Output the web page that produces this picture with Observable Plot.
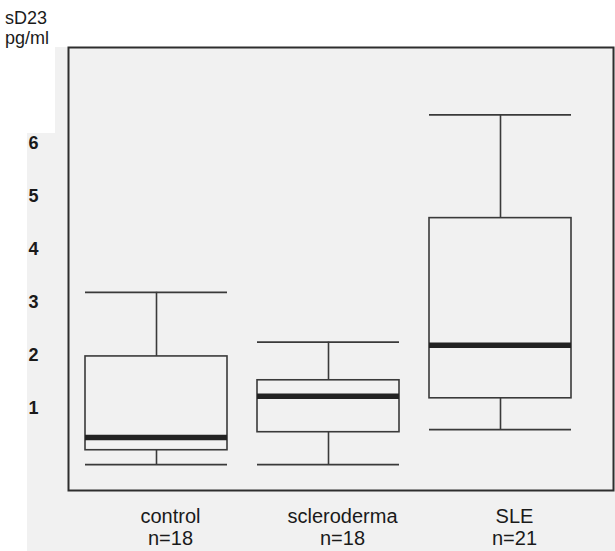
<!DOCTYPE html>
<html>
<head>
<meta charset="utf-8">
<script src="https://cdn.jsdelivr.net/npm/d3@7"></script>
<script src="https://cdn.jsdelivr.net/npm/@observablehq/plot@0.6"></script>
<style>
  html, body { margin: 0; padding: 0; background: #fff; }
  #wrap { position: relative; width: 615px; height: 551px; overflow: hidden; font-family: "Liberation Sans", Arial, sans-serif; }
  .paper { position: absolute; background: #f1f1f1; }
  #title { position: absolute; left: 5px; top: 8px; font-size: 18px; line-height: 20px; color: #1a1a1a; z-index: 2; }
  #chart { position: absolute; left: 0; top: 0; z-index: 1; }
</style>
</head>
<body>
<div id="wrap">
  <div class="paper" style="left:27px; top:133px; width:588px; height:418px;"></div>
  <div class="paper" style="left:55px; top:47px; width:560px; height:90px;"></div>
  <div id="title">sD23<br>pg/ml</div>
  <div id="chart"></div>
</div>
<script>
// Data
const groups      = ["control", "scleroderma", "SLE"];
const counts      = [18, 18, 21];
const whiskerLow  = [-0.06, -0.06, 0.60];
const q1          = [0.21, 0.55, 1.19];
const median      = [0.45, 1.23, 2.19];
const q3          = [1.98, 1.53, 4.59];
const whiskerHigh = [3.19, 2.25, 6.54];
const yTicks      = [1, 2, 3, 4, 5, 6];

const data = groups.map((g, i) => ({
  group: g, n: counts[i], lo: whiskerLow[i], q1: q1[i], med: median[i], q3: q3[i], hi: whiskerHigh[i]
}));
const nByGroup = new Map(data.map(d => [d.group, d.n]));

const line = "#3a3a3a";

const chart = Plot.plot({
  width: 615,
  height: 551,
  marginLeft: 68,
  marginRight: 2,
  marginTop: 47,
  marginBottom: 61,
  style: { background: "transparent", fontFamily: "Liberation Sans, Arial, sans-serif", color: "#1a1a1a" },
  x: { type: "band", domain: groups, range: [54, 602], padding: 0.177, label: null },
  y: { domain: [-0.55, 7.81], label: null },
  marks: [
    Plot.frame({ stroke: "#2e2e2e", strokeWidth: 2 }),
    Plot.ruleX(data, { x: "group", y1: "q3", y2: "hi", stroke: line, strokeWidth: 1.6 }),
    Plot.ruleX(data, { x: "group", y1: "lo", y2: "q1", stroke: line, strokeWidth: 1.6 }),
    Plot.tickY(data, { x: "group", y: "hi", stroke: line, strokeWidth: 1.8 }),
    Plot.tickY(data, { x: "group", y: "lo", stroke: line, strokeWidth: 1.8 }),
    Plot.barY(data, { x: "group", y1: "q1", y2: "q3", fill: "none", stroke: line, strokeWidth: 1.6 }),
    Plot.tickY(data, { x: "group", y: "med", stroke: "#222", strokeWidth: 5.5 }),
    Plot.axisY({ ticks: yTicks, tickSize: 0, tickPadding: 30, fontSize: 18, fontWeight: "bold", label: null, tickFormat: d => String(d) }),
    Plot.axisX({
      tickSize: 0, tickPadding: 17, dx: 14, fontSize: 20, lineHeight: 1.1, label: null,
      letterSpacing: "0.8px",
      tickFormat: d => `${d}\nn=${nByGroup.get(d)}`
    })
  ]
});
document.getElementById("chart").appendChild(chart);
</script>
</body>
</html>
